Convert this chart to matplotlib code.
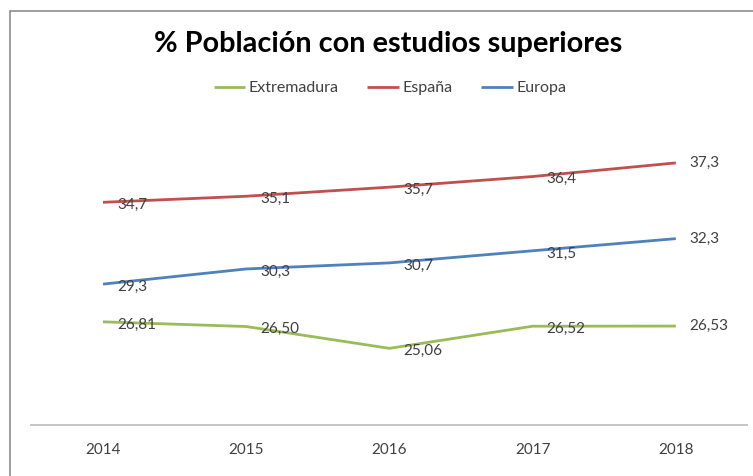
import numpy as np
import matplotlib.pyplot as plt
from matplotlib.patches import Rectangle

# datos
years = ['2014', '2015', '2016', '2017', '2018']
extremadura = [26.81, 26.50, 25.06, 26.52, 26.53]
espana = [34.7, 35.1, 35.7, 36.4, 37.3]
europa = [29.3, 30.3, 30.7, 31.5, 32.3]

ext_labels = ['26,81', '26,50', '25,06', '26,52', '26,53']
esp_labels = ['34,7', '35,1', '35,7', '36,4', '37,3']
eur_labels = ['29,3', '30,3', '30,7', '31,5', '32,3']

plt.rcParams['font.family'] = ['Lato', 'DejaVu Sans']

fig = plt.figure(figsize=(7.53, 4.76), dpi=100)
fig.patches.append(Rectangle((10 / 753, -0.1), 1.2, 1.1 - 11 / 476,
                             transform=fig.transFigure, fill=False,
                             edgecolor='#8c8c8c', linewidth=1.2))

ax = fig.add_axes([31.4 / 753, 51 / 476, 716 / 753, 303 / 476])
x = np.arange(len(years))

series = [
    ('Extremadura', extremadura, ext_labels, '#9BBB59'),
    ('España', espana, esp_labels, '#C0504D'),
    ('Europa', europa, eur_labels, '#4F81BD'),
]

for name, vals, labs, col in series:
    ax.plot(x, vals, color=col, linewidth=2.0, label=name, solid_capstyle='butt')
    for i, (v, t) in enumerate(zip(vals, labs)):
        dy = -2 if i < len(vals) - 1 else 0
        ax.annotate(t, (x[i], v), xytext=(10, dy), textcoords='offset points',
                    ha='left', va='center', fontsize=11, color='#404040')

ax.set_xlim(-0.5, 4.5)
ax.set_ylim(20, 40)
ax.set_xticks(x)
ax.set_xticklabels(years, fontsize=11, color='#404040')
ax.set_yticks([])
ax.tick_params(axis='x', length=0, pad=13)
for s in ['top', 'right', 'left']:
    ax.spines[s].set_visible(False)
ax.spines['bottom'].set_color('#BFBFBF')
ax.spines['bottom'].set_linewidth(1.3)

fig.text(0.516, 0.908, '% Población con estudios superiores', ha='center', va='center',
         fontsize=20.8, fontweight='bold', color='black')
fig.legend(loc='center', bbox_to_anchor=(0.518, 0.815), ncol=3, frameon=False,
           fontsize=11.5, handlelength=2.0, handletextpad=0.2, columnspacing=1.8,
           labelcolor='#404040')

fig.savefig('out.png', dpi=100)
